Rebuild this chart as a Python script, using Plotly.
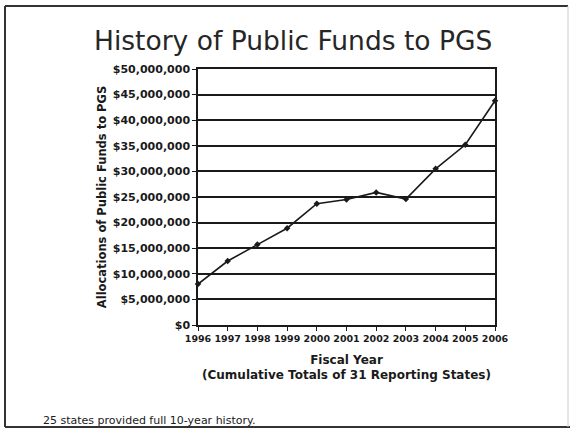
import plotly.graph_objects as go

years = [1996, 1997, 1998, 1999, 2000, 2001, 2002, 2003, 2004, 2005, 2006]
funds = [8.0e6, 12.5e6, 15.7e6, 18.9e6, 23.7e6, 24.5e6, 25.9e6, 24.6e6, 30.5e6, 35.2e6, 43.8e6]
ytick_vals = [i * 5e6 for i in range(11)]
ytick_text = ["$0", "$5,000,000", "$10,000,000", "$15,000,000", "$20,000,000", "$25,000,000",
              "$30,000,000", "$35,000,000", "$40,000,000", "$45,000,000", "$50,000,000"]

W, H = 570, 428
L, R, T, B = 198, 75, 69, 103
pw = W - L - R
ph = H - T - B


def px(x):
    return (x - L) / pw


def py(y):
    return (H - B - y) / ph


fig = go.Figure()
fig.add_trace(go.Scatter(
    x=years, y=funds, mode="lines+markers",
    line=dict(color="#1a1a1a", width=1.6),
    marker=dict(color="#1a1a1a", size=5, symbol="diamond"),
    showlegend=False, cliponaxis=False,
))

fig.update_layout(
    width=W, height=H,
    paper_bgcolor="white", plot_bgcolor="white",
    margin=dict(l=L, r=R, t=T, b=B),
    font=dict(family="DejaVu Sans", color="#1a1a1a"),
    xaxis=dict(
        range=[1996, 2006], tickmode="array", tickvals=years,
        ticktext=[str(y) for y in years], tickangle=0,
        tickfont=dict(size=9.5, family="DejaVu Sans", weight="bold"),
        showgrid=False, zeroline=False,
        showline=True, linecolor="#1a1a1a", linewidth=1.5, mirror=True,
        ticks="outside", ticklen=4, tickcolor="#1a1a1a",
        title=dict(text="<b>Fiscal Year<br>(Cumulative Totals of 31 Reporting States)</b>",
                   font=dict(size=12, family="DejaVu Sans"), standoff=12),
    ),
    yaxis=dict(
        range=[0, 50e6], tickmode="array", tickvals=ytick_vals, ticktext=ytick_text,
        tickfont=dict(size=11, family="DejaVu Sans", weight="bold"),
        showgrid=True, gridcolor="#1a1a1a", gridwidth=1.5, zeroline=False,
        showline=True, linecolor="#1a1a1a", linewidth=1.5, mirror=True,
        ticks="outside", ticklen=4, tickcolor="#1a1a1a",
        title=dict(text="<b>Allocations of Public Funds to PGS</b>",
                   font=dict(size=11.5, family="DejaVu Sans"), standoff=4),
    ),
)

fig.add_annotation(text="History of Public Funds to PGS", xref="paper", yref="paper",
                   x=px(293), y=py(40), showarrow=False, xanchor="center", yanchor="middle",
                   font=dict(size=26.5, color="#262626", family="DejaVu Sans"))
fig.add_annotation(text="25 states provided full 10-year history.", xref="paper", yref="paper",
                   x=px(41), y=py(420), showarrow=False, xanchor="left", yanchor="middle",
                   font=dict(size=11, color="#1a1a1a", family="DejaVu Sans"))

# slide frame
fig.add_shape(type="line", xref="paper", yref="paper", x0=px(5), x1=px(5), y0=py(6), y1=py(427),
              line=dict(color="#333333", width=2))
fig.add_shape(type="line", xref="paper", yref="paper", x0=px(5), x1=px(568), y0=py(6), y1=py(6),
              line=dict(color="#333333", width=2))
fig.add_shape(type="line", xref="paper", yref="paper", x0=px(5), x1=px(570), y0=py(427), y1=py(427),
              line=dict(color="#333333", width=2))
fig.add_shape(type="line", xref="paper", yref="paper", x0=px(568), x1=px(568), y0=py(6), y1=py(427),
              line=dict(color="#cccccc", width=1))

fig.write_html("out.html", config={"displayModeBar": False},
               post_script="document.body.style.margin='0';document.body.style.overflow='hidden';")
